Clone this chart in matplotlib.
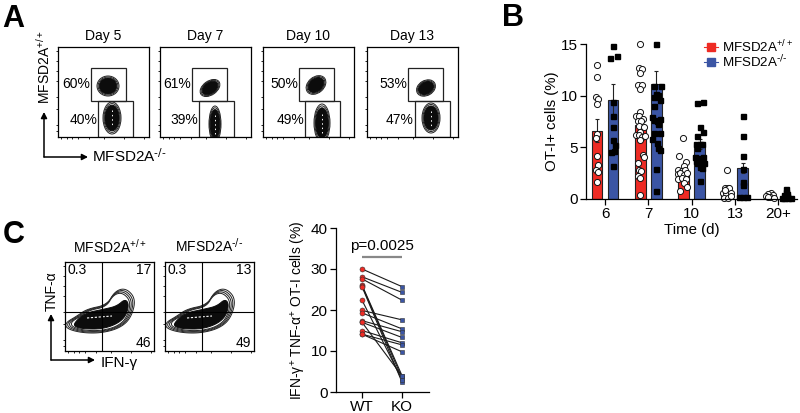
import matplotlib
matplotlib.use("Agg")
import matplotlib.pyplot as plt
import numpy as np
from matplotlib.patches import Ellipse, Polygon, Rectangle

plt.rcParams["font.family"] = ["Liberation Sans", "DejaVu Sans"]
plt.rcParams["mathtext.default"] = "regular"
plt.rcParams["font.size"] = 10

W, H = 800, 413
RED = "#ee2b24"
BLUE = "#3b55a4"
WT_LABEL = r"MFSD2A$^{+/+}$"
KO_LABEL = r"MFSD2A$^{\text{-/-}}$"

# Panel A: flow plots, everything in pixels relative to each plot's corner
days = ["Day 5", "Day 7", "Day 10", "Day 13"]
a_left = [58, 160, 263, 367]
a_upper_pct = ["60%", "61%", "50%", "53%"]
a_lower_pct = ["40%", "39%", "49%", "47%"]
a_upper_gate_x = [33, 32, 36, 41]
a_lower_gate_x = [40, 39, 42, 48]
# cx, cy, rx, ry, angle
a_upper_blob = [(50, 39, 11, 10, 0), (50, 41, 11, 7, -35), (53, 38, 11, 8, -40), (59, 41, 10, 7.5, -30)]
a_lower_blob = [(54, 71, 9, 16, 0), (55, 77, 6, 18, 0), (59, 76, 8, 19, 0), (64, 71, 9, 15, 0)]

# Panel B
groups = ["6", "7", "10", "13", "20+"]
wt_means = [6.6, 7.2, 2.6, 0.6, 0.2]
ko_means = [9.6, 11.1, 5.3, 3.0, 0.2]
wt_err = [1.1, 0.5, 0.3, 0.2, 0.05]
ko_err = [1.5, 1.3, 0.5, 0.5, 0.08]

wt_vals = [
    [13.0, 11.8, 9.9, 9.7, 9.2, 6.3, 5.9, 4.2, 3.3, 2.8, 2.6, 1.6],
    [15.0, 12.7, 12.6, 12.2, 11.0, 11.0, 10.6, 8.4, 8.0, 8.0, 7.7, 7.5, 7.5, 7.1, 7.0,
     6.5, 6.2, 6.2, 6.0, 6.1, 5.7, 4.3, 4.1, 3.5, 2.8, 2.7, 2.2, 2.0, 0.4],
    [5.9, 4.2, 3.6, 3.2, 2.8, 2.7, 2.8, 2.4, 2.5, 2.3, 2.5, 1.9, 2.0, 1.9, 1.5, 1.15, 0.8],
    [2.8, 1.1, 1.1, 1.1, 0.6, 0.6, 0.6, 0.1, 0.1, 0.3, 0.9],
    [0.55, 0.45, 0.35, 0.3, 0.2, 0.15, 0.1],
]
wt_jit = [
    [0, 0, -.02, .02, 0, .01, -.02, 0, .02, -.03, .02, 0],
    [0, -.04, .04, 0, -.05, .03, 0, 0, -.11, -.02, .06, -.06, .02, -.04, .08,
     0, -.11, -.03, .04, .11, 0, .06, .09, -.06, -.02, .01, -.06, 0, 0],
    [-.02, -.11, .05, .02, -.13, -.04, .04, -.14, -.08, 0, .08, -.12, -.04, .06, 0, .08, -.08],
    [0, -.05, .02, .06, -.1, -.02, .1, -.07, .02, .1, -.04],
    [.02, -.06, .07, -.1, .0, -.05, .09],
]
ko_vals = [
    [14.8, 13.6, 13.8, 9.4, 8.0, 7.0, 5.7, 5.2, 4.5, 4.6, 3.2],
    [15.0, 10.9, 10.9, 10.2, 10.1, 9.9, 9.6, 9.0, 7.9, 7.6, 7.5, 7.7, 7.3, 6.4, 6.4,
     5.8, 5.4, 4.9, 4.7, 2.9, 0.8],
    [9.3, 9.4, 7.0, 6.5, 6.1, 5.35, 5.35, 5.3, 4.9, 4.1, 4.1, 4.0, 3.7, 3.6, 3.5, 3.5, 3.1, 3.0, 1.75],
    [8.0, 6.1, 4.2, 2.9, 1.6, 1.4, 0.2, 0.2, 0.2],
    [1.0, 0.7, 0.5, 0.35, 0.3, 0.2, 0.1, 0.1, 0.05, 0.05],
]
ko_jit = [
    [0, -.06, .09, 0, 0, 0, 0, .04, -.05, .02, 0],
    [0, -.05, .11, 0, .05, -.05, .09, -.06, -.1, -.06, .02, .09, .03, -.06, .09,
     -.1, .02, .05, .09, 0, 0],
    [-.07, .09, 0, .09, -.06, 0, -.09, .06, -.05, -.11, .08, 0, -.09, .02, .1, -.05, .02, .06, 0],
    [0, 0, 0, 0, 0, .01, -.09, 0, .1],
    [0, 0, .03, -.04, .03, 0, -.05, .05, -.1, .1],
]

# Panel C: flow plots
c_left = [65, 165]
c_titles = [WT_LABEL, KO_LABEL]
c_tl = ["0.3", "0.3"]
c_tr = ["17", "13"]
c_br = ["46", "49"]
# outline of the population, pixels from the plot corner
c_outline = [
    (0, 61), (12, 54), (22, 47), (42, 43), (50, 29), (61, 26), (71, 37),
    (66, 56), (55, 66), (37, 71), (18, 71), (2, 67),
]
# solid core where the contour lines merge
c_core = [
    (9, 61), (20, 51), (40, 47), (52, 44), (60, 37), (64, 42),
    (61, 54), (52, 62), (37, 67), (20, 67), (10, 65),
]

# Panel C: paired plot
pair_wt = [30, 28.1, 27.6, 26.1, 25.9, 25.7, 22.4, 19.9, 19.3, 17.4, 17, 17, 15, 14.1, 14.1]
pair_ko = [25.7, 24.3, 22.4, 4, 3.4, 2.4, 3, 17.6, 15.4, 14.7, 13.3, 3.9, 12, 11.5, 9.8]


def axes_px(fig, left, top, right, bottom):
    return fig.add_axes([left / W, 1 - bottom / H, (right - left) / W, (bottom - top) / H])


def draw_blob(ax, cx, cy, rx, ry, angle):
    for scale, face, edge in [(1, "white", "#222222"), (.9, "white", "#222222"), (.8, "#0c0c0c", "#0c0c0c")]:
        ax.add_patch(Ellipse((cx, cy), 2 * rx * scale, 2 * ry * scale, angle=angle,
                             facecolor=face, edgecolor=edge, lw=0.7))
    if ry > 12:
        ax.plot([cx, cx], [cy - ry * .5, cy + ry * .55], color="white", lw=0.7, ls=(0, (1.5, 3)))


def flow_frame(ax, width, height):
    ax.set_xlim(0, width)
    ax.set_ylim(height, 0)
    ax.set_xticks([3, 9, 14, 20, 31, 46, 66, 86])
    ax.set_yticks([4, 14, 24, 34, 50, 62, 78, 84])
    ax.tick_params(length=1.5, width=0.6, labelbottom=False, labelleft=False, pad=1)
    for s in ax.spines.values():
        s.set_linewidth(0.9)


def smooth(points, rounds=3):
    pts = np.array(points, float)
    for _ in range(rounds):
        nxt = np.roll(pts, -1, axis=0)
        pts = np.column_stack([.75 * pts + .25 * nxt, .25 * pts + .75 * nxt]).reshape(-1, 2)
    return pts


fig = plt.figure(figsize=(W / 100, H / 100), dpi=100)
overlay = fig.add_axes([0, 0, 1, 1], zorder=10)
overlay.set_xlim(0, W)
overlay.set_ylim(H, 0)
overlay.axis("off")

# Panel A
for i, day in enumerate(days):
    ax = axes_px(fig, a_left[i], 47, a_left[i] + 91, 137)
    flow_frame(ax, 91, 90)
    ux, lx = a_upper_gate_x[i], a_lower_gate_x[i]
    draw_blob(ax, *a_upper_blob[i])
    draw_blob(ax, *a_lower_blob[i])
    ax.add_patch(Rectangle((ux, 21), 35, 33, fill=False, ec="#222222", lw=0.9))
    ax.add_patch(Rectangle((lx, 54), 35, 36, fill=False, ec="#222222", lw=0.9))
    ax.text(ux - 1, 37, a_upper_pct[i], ha="right", va="center", fontsize=10)
    ax.text(lx - 1, 73, a_lower_pct[i], ha="right", va="center", fontsize=10)
    ax.set_title(day, fontsize=10, pad=5)

arrow = dict(arrowstyle="-|>,head_width=0.18,head_length=0.35", color="black", lw=1.1,
             shrinkA=0, shrinkB=0)
overlay.annotate("", xy=(44, 112), xytext=(44, 157), arrowprops=arrow)
overlay.annotate("", xy=(88, 157), xytext=(44, 157), arrowprops=arrow)
overlay.text(44, 67, WT_LABEL, rotation=90, ha="center", va="center", fontsize=10)
overlay.text(92, 156, KO_LABEL, ha="left", va="center", fontsize=11)

# Panel B
ax = axes_px(fig, 586, 44, 797, 199)
x = np.arange(len(groups))
off = 8 / 43.3
ax.bar(x - off, wt_means, 0.25, yerr=wt_err, color=RED, edgecolor="#222222", lw=0.8,
       error_kw=dict(ecolor="#222222", lw=0.8, capsize=1.6, capthick=0.8))
ax.bar(x + off, ko_means, 0.25, yerr=ko_err, color=BLUE, edgecolor="#222222", lw=0.8,
       error_kw=dict(ecolor="#222222", lw=0.8, capsize=1.6, capthick=0.8))
for i in range(len(groups)):
    ax.plot(i - off + np.array(wt_jit[i]), wt_vals[i], "o", mfc="white", mec="#111111", mew=0.7, ms=4.4,
            clip_on=False, ls="none")
    ax.plot(i + off + np.array(ko_jit[i]), ko_vals[i], "s", color="black", ms=3.6, clip_on=False, ls="none")
ax.set_xlim(-19 / 43.3, 192 / 43.3)
ax.set_ylim(0, 15)
ax.set_xticks(x, groups)
ax.set_yticks([0, 5, 10, 15])
ax.tick_params(length=4, width=0.9, labelsize=11, pad=2)
ax.spines[["top", "right"]].set_visible(False)
for s in ("left", "bottom"):
    ax.spines[s].set_linewidth(0.9)
ax.set_xlabel("Time (d)", fontsize=10.8, labelpad=1)
ax.set_ylabel("OT-I+ cells (%)", fontsize=10.8, labelpad=1)

for ypx, col, lab in [(47, RED, WT_LABEL), (62, BLUE, KO_LABEL)]:
    overlay.plot([704, 718], [ypx, ypx], color=col, lw=0.8)
    overlay.plot([711], [ypx], "s", color=col, ms=6)
    overlay.text(722, ypx, lab, ha="left", va="center", fontsize=9.6)

# Panel C flow plots
blob = smooth(c_outline)
core = smooth(c_core)
centre = np.array([38, 55])
for i, left in enumerate(c_left):
    ax = axes_px(fig, left, 262, left + 89, 351)
    flow_frame(ax, 89, 89)
    for scale in [1, .95, .9, .85]:
        ax.add_patch(Polygon(centre + (blob - centre) * scale, closed=True, facecolor="white",
                             edgecolor="#222222", lw=0.7))
    ax.add_patch(Polygon(core, closed=True, facecolor="#0c0c0c", edgecolor="#0c0c0c", lw=0.7))
    ax.plot([22, 47], [56, 54], color="white", lw=0.8, ls=(0, (2, 1.5)))
    ax.axvline(37, color="black", lw=0.8)
    ax.axhline(50, color="black", lw=0.8)
    ax.text(3, 8, c_tl[i], ha="left", va="center", fontsize=10)
    ax.text(86, 8, c_tr[i], ha="right", va="center", fontsize=10)
    ax.text(86, 81, c_br[i], ha="right", va="center", fontsize=10)
    ax.set_title(c_titles[i], fontsize=10, pad=7)

overlay.annotate("", xy=(51, 314), xytext=(51, 360), arrowprops=arrow)
overlay.annotate("", xy=(95, 360), xytext=(51, 360), arrowprops=arrow)
overlay.text(52, 291, "TNF-α", rotation=90, ha="center", va="center", fontsize=10)
overlay.text(101, 363, "IFN-γ", ha="left", va="center", fontsize=11)

# Panel C paired plot
ax = axes_px(fig, 336, 228, 429, 392)
for a, b in zip(pair_wt, pair_ko):
    ax.plot([0, 1], [a, b], color="#1a1a1a", lw=0.8, zorder=1)
ax.plot(np.zeros(len(pair_wt)), pair_wt, "o", mfc=RED, mec="#333333", mew=0.4, ms=3.6, ls="none", zorder=2)
ax.plot(np.ones(len(pair_ko)), pair_ko, "s", mfc=BLUE, mec="#333333", mew=0.4, ms=3.4, ls="none", zorder=2)
ax.plot([0, 1], [33, 33], color="#888888", lw=1.6, solid_capstyle="butt")
ax.text(0.5, 33.9, "p=0.0025", ha="center", va="bottom", fontsize=11)
ax.set_xlim(-26 / 40, 67 / 40)
ax.set_ylim(0, 40)
ax.set_xticks([0, 1], ["WT", "KO"])
ax.set_yticks([0, 10, 20, 30, 40])
ax.tick_params(length=4, width=0.9, labelsize=11, pad=2)
ax.spines[["top", "right"]].set_visible(False)
for s in ("left", "bottom"):
    ax.spines[s].set_linewidth(0.9)
ax.set_ylabel("IFN-γ$^{+}$ TNF-α$^{+}$ OT-I cells (%)", fontsize=10, labelpad=2)

# Panel letters
for letter, px, py in [("A", 2, 27), ("B", 502, 26), ("C", 3, 243)]:
    overlay.text(px, py, letter, fontsize=22, fontweight="bold", ha="left", va="baseline")

fig.savefig("out.png", dpi=100)
